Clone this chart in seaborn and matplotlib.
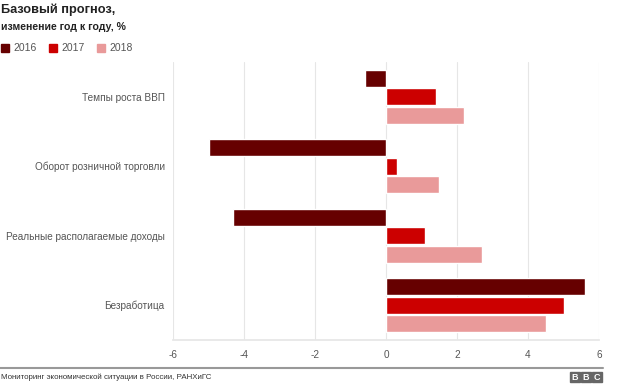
import matplotlib
matplotlib.use("Agg")
from matplotlib import pyplot as plt
import seaborn as sns
import pandas as pd

categories = ["Темпы роста ВВП", "Оборот розничной торговли",
              "Реальные располагаемые доходы", "Безработица"]
years = ["2016", "2017", "2018"]
v2016 = [-0.6, -5.0, -4.3, 5.6]
v2017 = [1.4, 0.3, 1.1, 5.0]
v2018 = [2.2, 1.5, 2.7, 4.5]
xticks = [-6, -4, -2, 0, 2, 4, 6]

rows = []
for year, vals in zip(years, [v2016, v2017, v2018]):
    for cat, v in zip(categories, vals):
        rows.append({"cat": cat, "year": year, "value": v})
df = pd.DataFrame(rows)

colors = ["#660000", "#cc0000", "#e99a9a"]
grey = "#555555"

sns.set_theme(style="white")
plt.rcParams["font.family"] = ["Liberation Sans", "DejaVu Sans"]

fig = plt.figure(figsize=(6.24, 3.84), dpi=100)
ax = fig.add_axes([173 / 624, 1 - 340 / 384, 426 / 624, 278 / 384])

sns.barplot(data=df, x="value", y="cat", hue="year", order=categories,
            hue_order=years, palette=colors, orient="h", width=0.8, gap=0.1,
            saturation=1, ax=ax, legend=False)

ax.set_xlim(-6, 6)
ax.set_ylim(3.5, -0.5)
ax.set_xticks(xticks)
ax.set_xticklabels([str(t) for t in xticks])
ax.set_xlabel("")
ax.set_ylabel("")
ax.grid(axis="x", color="#e6e6e6", linewidth=0.8)
ax.set_axisbelow(True)
for s in ["top", "right", "left"]:
    ax.spines[s].set_visible(False)
ax.spines["bottom"].set_color("#e6e6e6")
ax.tick_params(axis="both", length=0, colors=grey, labelsize=7.2)
ax.tick_params(axis="y", pad=6)
ax.tick_params(axis="x", pad=7)

# title and legend
fig.text(1 / 624, 1 - 10 / 384, "Базовый прогноз,", fontsize=9.2,
         fontweight="bold", color="#222222", va="center")
fig.text(1 / 624, 1 - 27 / 384, "изменение год к году, %", fontsize=7.6,
         fontweight="bold", color="#222222", va="center")
for i, (year, c) in enumerate(zip(years, colors)):
    x0 = [1, 49, 97][i]
    fig.patches.append(plt.Rectangle((x0 / 624, 1 - 52 / 384), 8 / 624, 8 / 384,
                                     transform=fig.transFigure, color=c))
    fig.text((x0 + 12) / 624, 1 - 48 / 384, year, fontsize=7.5, color=grey,
             va="center")

# footer
fig.add_artist(plt.Line2D([0, 603 / 624], [1 - 368 / 384] * 2,
                          transform=fig.transFigure, color="#999999", linewidth=1.5))
fig.text(1 / 624, 1 - 377 / 384,
         "Мониторинг экономической ситуации в России, РАНХиГС",
         fontsize=5.7, color="#333333", va="center")
for i, letter in enumerate("BBC"):
    x0 = 570 + i * 11
    fig.patches.append(plt.Rectangle((x0 / 624, 1 - 382 / 384), 10 / 624, 10 / 384,
                                     transform=fig.transFigure, color="#666666"))
    fig.text((x0 + 5) / 624, 1 - 377 / 384, letter, fontsize=6.5, color="white",
             fontweight="bold", ha="center", va="center_baseline")

fig.savefig("out.png", dpi=100)
